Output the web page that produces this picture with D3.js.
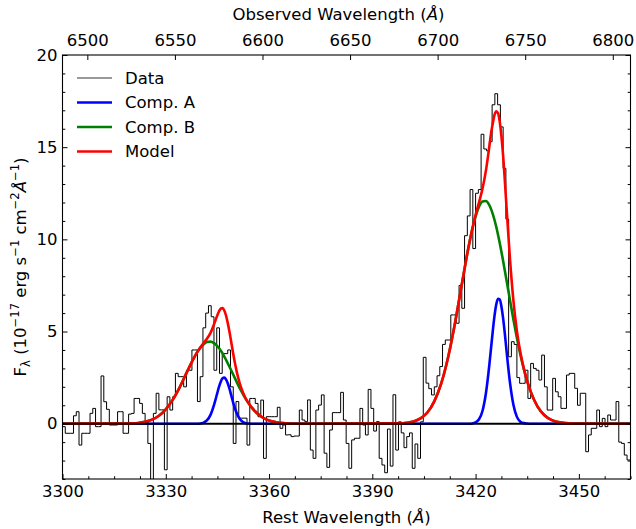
<!DOCTYPE html>
<html>
<head>
<meta charset="utf-8">
<script src="https://cdn.jsdelivr.net/npm/d3@7"></script>
<style>
  body { margin: 0; background: #fff; }
  svg { display: block; font-family: "DejaVu Sans", sans-serif; }
</style>
</head>
<body>
<svg id="chart" width="636" height="529"></svg>
<script>
// redshift used for the top (observed frame) axis
const redshift = 0.9654;

// spectrum: flux per 0.8 A rest-frame bin starting at 3300 A
const binStart = 3300;
const binWidth = 0.8;
const flux = [
  -0.16,-0.52,-0.52,-0.52,0.43,0.65,-1.16,-0.52,-0.52,-0.52,
  0.56,0.83,-0.16,-0.16,2.59,1.19,0.78,-0.07,-0.07,-0.07,
  0.65,0.65,-0.52,-0.52,0.52,0.56,1.37,1.37,1.1,0.56,
  0.1,-1.07,-3.6,0.56,1.65,0.75,0.75,-2.5,1.46,0.74,
  1.46,2.73,2.55,2.55,2.0,2.9,2.9,4.0,4.0,1.2,
  2.55,5.2,6.0,6.4,5.8,2.9,5.2,2.73,3.8,3.8,
  4.0,2.0,-1.07,1.2,0.3,0.3,0.3,-1.16,1.37,1.37,
  1.1,0.38,1.28,-1.88,0.38,0.38,0.38,0.38,0.89,-0.25,
  -0.07,-0.61,-0.6,-0.7,-0.67,-0.67,0.74,0.2,0.11,1.29,
  -1.43,-1.88,0.74,1.01,1.56,-1.6,-2.37,-0.34,0.6,0.6,
  0.6,1.7,0.2,-1.07,-2.42,-0.88,-0.79,-0.79,0.83,-0.07,
  -0.61,1.86,0.83,-0.4,0.11,-1.88,-2.24,-2.66,-0.29,-2.3,
  1.57,-1.43,0.1,-0.5,-1.3,-0.7,-0.5,-2.42,-1.1,-1.88,
  0.1,3.6,2.2,1.9,1.56,2.0,2.6,3.1,4.3,4.54,
  4.54,5.9,5.9,5.45,7.5,6.26,10.2,11.27,12.7,9.5,
  12.5,12.7,15.7,14.9,14.8,15.3,17.3,17.9,17.3,16.1,
  13.85,11.1,3.63,4.45,4.3,2.5,2.19,2.19,2.9,1.37,
  3.27,3.0,2.9,2.37,3.72,2.0,0.74,0.74,2.46,1.73,
  1.46,0.83,0.83,2.64,2.73,2.73,1.92,1.0,1.65,1.65,
  -1.52,-0.61,-0.25,-0.25,0.74,-0.16,0.29,-0.16,0.47,0.2,
  0.2,1.2,-1.0,-1.07,-1.7,-1.97,-1.97
];

// fit components around [Ne V] 3346
const grid1 = [3318,3320,3322,3324,3326,3328,3330,3332,3334,3336,3338,3339,3340,3341,3342,3343,3344,3344.5,3345,3345.5,
  3346,3346.5,3347,3347.5,3348,3348.5,3349,3350,3351,3352,3353,3354,3355,3356,3358,3360,3362,3364,3366,3368];
const compA1 = [0,0,0,0,0,0,0,0,0,0,0,0,0.01,0.06,0.19,0.48,1.01,1.34,1.69,2.02,
  2.29,2.46,2.5,2.4,2.19,1.9,1.55,0.88,0.41,0.15,0.04,0.01,0,0,0,0,0,0,0,0];
const compB1 = [0.01,0.02,0.04,0.1,0.22,0.43,0.78,1.29,1.96,2.74,3.5,3.84,4.11,4.31,4.43,4.45,4.37,4.3,4.2,4.09,
  3.96,3.81,3.64,3.47,3.28,3.09,2.9,2.5,2.11,1.75,1.41,1.12,0.87,0.66,0.35,0.17,0.08,0.03,0.01,0];
const model1 = [0.01,0.02,0.04,0.1,0.22,0.43,0.78,1.29,1.96,2.74,3.5,3.84,4.12,4.37,4.62,4.93,5.38,5.64,5.89,6.11,
  6.25,6.27,6.14,5.87,5.47,4.99,4.45,3.38,2.52,1.9,1.45,1.13,0.87,0.66,0.35,0.17,0.08,0.03,0.01,0];

// fit components around [Ne V] 3426
const grid2 = [3398,3400,3402,3404,3406,3408,3410,3412,3414,3416,3418,3419,3420,3421,3422,3423,3424,3424.5,3425,3425.5,
  3426,3426.5,3427,3427.5,3428,3428.5,3429,3430,3431,3432,3433,3434,3435,3436,3438,3440,3442,3444,3446,3448];
const compA2 = [0,0,0,0,0,0,0,0,0,0,0,0.01,0.07,0.24,0.69,1.65,3.2,4.12,5.04,5.86,
  6.47,6.77,6.74,6.36,5.71,4.87,3.94,2.21,1.01,0.37,0.11,0.03,0.01,0,0,0,0,0,0,0];
const compB2 = [0.02,0.05,0.12,0.29,0.61,1.21,2.17,3.59,5.44,7.56,9.63,10.52,11.25,11.77,12.05,12.08,11.85,11.64,11.37,11.05,
  10.68,10.26,9.81,9.33,8.83,8.3,7.77,6.69,5.64,4.65,3.76,2.97,2.29,1.74,0.93,0.46,0.21,0.09,0.03,0.01];
const model2 = [0.02,0.05,0.12,0.29,0.61,1.21,2.17,3.59,5.44,7.56,9.63,10.53,11.32,12.01,12.74,13.73,15.05,15.76,16.3,16.75,
  16.95,16.85,16.4,15.6,14.54,13.17,11.71,8.9,6.65,5.02,3.87,3.0,2.3,1.74,0.93,0.46,0.21,0.09,0.03,0.01];

const restTicks = [3300,3330,3360,3390,3420,3450];
const restMinor = [3307.5,3315,3322.5,3337.5,3345,3352.5,3367.5,3375,3382.5,3397.5,3405,3412.5,3427.5,3435,3442.5,3457.5,3465];
const obsTicks = [6500,6550,6600,6650,6700,6750,6800];
const yTicks = [0,5,10,15,20];
const yMinor = [-3,-2,-1,1,2,3,4,6,7,8,9,11,12,13,14,16,17,18,19];

const legendItems = [
  { label: "Data",    color: "#000", width: 0.8 },
  { label: "Comp. A", color: "#0000ff", width: 2.6 },
  { label: "Comp. B", color: "#008000", width: 2.6 },
  { label: "Model",   color: "#ff0000", width: 2.6 }
];

const plot = { left: 62.5, right: 630.5, top: 55, bottom: 479 };
const fontSize = 16.5;

const svg = d3.select("#chart");

const x = d3.scaleLinear().domain([3300, 3465]).range([plot.left, plot.right]);
const xObs = d3.scaleLinear()
  .domain([3300 * (1 + redshift), 3465 * (1 + redshift)])
  .range([plot.left, plot.right]);
const y = d3.scaleLinear().domain([-3, 20]).range([plot.bottom, plot.top]);

svg.append("defs").append("clipPath").attr("id", "clip")
  .append("rect")
    .attr("x", plot.left).attr("y", plot.top)
    .attr("width", plot.right - plot.left)
    .attr("height", plot.bottom - plot.top);

const body = svg.append("g").attr("clip-path", "url(#clip)");

// data as a histogram-like step line
const steps = flux.map((v, i) => [binStart + i * binWidth, v]);
steps.push([binStart + flux.length * binWidth, flux[flux.length - 1]]);

const stepLine = d3.line()
  .x(d => x(d[0])).y(d => y(d[1]))
  .curve(d3.curveStepAfter);

body.append("path")
  .datum(steps)
  .attr("fill", "none")
  .attr("stroke", "#000")
  .attr("stroke-width", 1)
  .attr("d", stepLine);

// components: zero everywhere except around the two lines
function series(v1, v2) {
  const pts = [[3300, 0]];
  grid1.forEach((w, i) => pts.push([w, v1[i]]));
  grid2.forEach((w, i) => pts.push([w, v2[i]]));
  pts.push([3465, 0]);
  return pts;
}

const smooth = d3.line()
  .x(d => x(d[0])).y(d => y(d[1]))
  .curve(d3.curveMonotoneX);

[
  { pts: series(compA1, compA2), color: "#0000ff" },
  { pts: series(compB1, compB2), color: "#008000" },
  { pts: series(model1, model2), color: "#ff0000" }
].forEach(s => {
  body.append("path")
    .datum(s.pts)
    .attr("fill", "none")
    .attr("stroke", s.color)
    .attr("stroke-width", 2.6)
    .attr("stroke-linejoin", "round")
    .attr("d", smooth);
});

// zero level
body.append("line")
  .attr("x1", plot.left).attr("x2", plot.right)
  .attr("y1", y(0)).attr("y2", y(0))
  .attr("stroke", "#000")
  .attr("stroke-width", 2);

// axes (ticks point inwards)
function styleAxis(g) {
  g.select(".domain").remove();
  g.selectAll("text")
    .attr("font-size", fontSize)
    .attr("font-family", "DejaVu Sans")
    .attr("fill", "#000");
  g.selectAll("line").attr("stroke", "#000").attr("stroke-width", 1);
}

svg.append("g")
  .attr("transform", `translate(0,${plot.bottom})`)
  .call(d3.axisBottom(x).tickValues(restTicks).tickFormat(d3.format("d"))
    .tickSizeInner(-5).tickSizeOuter(0).tickPadding(6))
  .call(styleAxis);
svg.append("g")
  .attr("transform", `translate(0,${plot.bottom})`)
  .call(d3.axisBottom(x).tickValues(restMinor).tickFormat("")
    .tickSizeInner(-2.8).tickSizeOuter(0))
  .call(styleAxis);

svg.append("g")
  .attr("transform", `translate(0,${plot.top})`)
  .call(d3.axisTop(xObs).tickValues(obsTicks).tickFormat(d3.format("d"))
    .tickSizeInner(-5).tickSizeOuter(0).tickPadding(9))
  .call(styleAxis);

svg.append("g")
  .attr("transform", `translate(${plot.left},0)`)
  .call(d3.axisLeft(y).tickValues(yTicks).tickFormat(d3.format("d"))
    .tickSizeInner(-5).tickSizeOuter(0).tickPadding(5))
  .call(styleAxis);
svg.append("g")
  .attr("transform", `translate(${plot.left},0)`)
  .call(d3.axisLeft(y).tickValues(yMinor).tickFormat("")
    .tickSizeInner(-2.8).tickSizeOuter(0))
  .call(styleAxis);

svg.append("g")
  .attr("transform", `translate(${plot.right},0)`)
  .call(d3.axisRight(y).tickValues(yTicks).tickFormat("")
    .tickSizeInner(-5).tickSizeOuter(0))
  .call(styleAxis);
svg.append("g")
  .attr("transform", `translate(${plot.right},0)`)
  .call(d3.axisRight(y).tickValues(yMinor).tickFormat("")
    .tickSizeInner(-2.8).tickSizeOuter(0))
  .call(styleAxis);

// frame
svg.append("rect")
  .attr("x", plot.left).attr("y", plot.top)
  .attr("width", plot.right - plot.left)
  .attr("height", plot.bottom - plot.top)
  .attr("fill", "none")
  .attr("stroke", "#000")
  .attr("stroke-width", 1.1);

// axis titles
const cx = (plot.left + plot.right) / 2;

const xTitle = svg.append("text")
  .attr("x", cx).attr("y", 523)
  .attr("text-anchor", "middle")
  .attr("font-size", fontSize);
xTitle.append("tspan").text("Rest Wavelength (");
xTitle.append("tspan").attr("font-style", "italic").text("Å");
xTitle.append("tspan").text(")");

const topTitle = svg.append("text")
  .attr("x", cx - 8).attr("y", 20)
  .attr("text-anchor", "middle")
  .attr("font-size", fontSize);
topTitle.append("tspan").text("Observed Wavelength (");
topTitle.append("tspan").attr("font-style", "italic").text("Å");
topTitle.append("tspan").text(")");

const yTitle = svg.append("text")
  .attr("transform", `translate(26,${(plot.top + plot.bottom) / 2}) rotate(-90)`)
  .attr("text-anchor", "middle")
  .attr("font-size", fontSize);
const small = fontSize * 0.7;
yTitle.append("tspan").text("F");
yTitle.append("tspan").attr("font-size", small).attr("dy", 4).text("λ");
yTitle.append("tspan").attr("dy", -4).text(" (10");
yTitle.append("tspan").attr("font-size", small).attr("dy", -7).text("−17");
yTitle.append("tspan").attr("dy", 7).text(" erg s");
yTitle.append("tspan").attr("font-size", small).attr("dy", -7).text("−1");
yTitle.append("tspan").attr("dy", 7).text(" cm");
yTitle.append("tspan").attr("font-size", small).attr("dy", -7).text("−2");
yTitle.append("tspan").attr("dy", 7).attr("font-style", "italic").text("Å");
yTitle.append("tspan").attr("font-size", small).attr("dy", -7).text("−1");
yTitle.append("tspan").attr("dy", 7).text(")");

// legend
const legend = svg.append("g");
legendItems.forEach((d, i) => {
  const ly = 78 + i * 24.5;
  legend.append("line")
    .attr("x1", 77).attr("x2", 112)
    .attr("y1", ly).attr("y2", ly)
    .attr("stroke", d.color)
    .attr("stroke-width", d.width);
  legend.append("text")
    .attr("x", 125).attr("y", ly)
    .attr("dy", "0.35em")
    .attr("font-size", fontSize)
    .text(d.label);
});
</script>
</body>
</html>
